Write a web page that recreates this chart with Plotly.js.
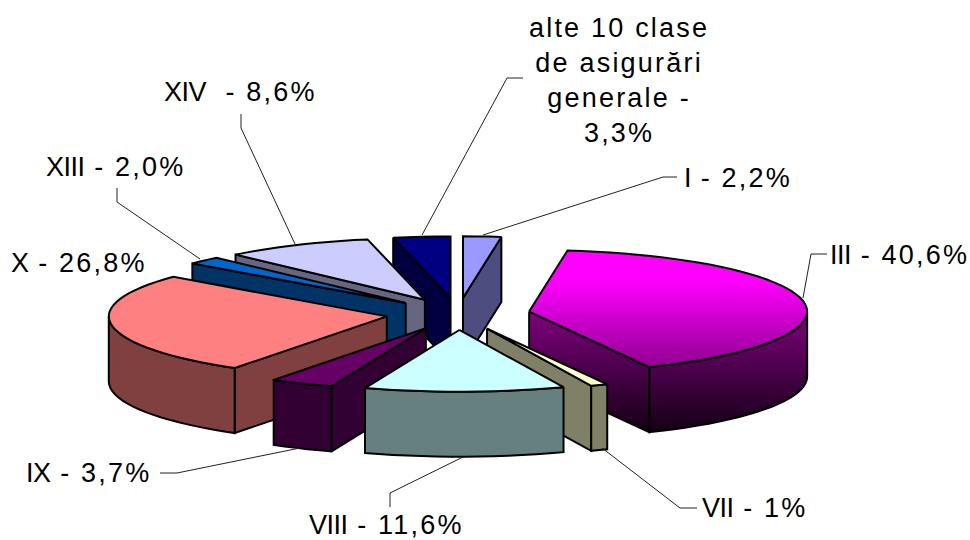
<!DOCTYPE html>
<html>
<head>
<meta charset="utf-8">
<script src="https://cdn.plot.ly/plotly-3.0.1.min.js"></script>
<style>
html,body{margin:0;padding:0;background:#fff}
#chart{width:970px;height:540px}
.annotation-text{letter-spacing:2.2px}
</style>
</head>
<body>
<div id="chart"></div>
<script>
// Data, clockwise from 12 o'clock
const categories = ["I", "III", "VII", "VIII", "IX", "X", "XIII", "XIV", "alte 10 clase de asigurări generale"];
const shares = [2.2, 40.6, 1, 11.6, 3.7, 26.8, 2.0, 8.6, 3.3];
const labelValues = ["- 2,2%", "- 40,6%", "- 1%", "- 11,6%", "- 3,7%", "- 26,8%", "- 2,0%", " - 8,6%", ""];
const otherLabel = "alte 10 clase<br>de asigurări<br>generale -<br>3,3%";
const topColors = ["#9999FF", "#FF00FF", "#FFFFCC", "#CCFFFF", "#660066", "#FF8080", "#0066CC", "#CCCCFF", "#000080"];
const wallColors = ["#4D4D80", "#800080", "#808066", "#668080", "#330033", "#804040", "#003366", "#666680", "#000040"];

// Projection of the tilted pie (page pixels)
const cx = 458, cy = 314, radius = 278, tilt = 0.222, explode = 72, depth = 65;
const paintOrder = [0, 8, 7, 6, 5, 1, 2, 4, 3];
const gradientSlice = 1;

// Label placement: x, y, horizontal anchor
const labelPos = [[682,178,"left"],[828,255,"left"],[700,508,"left"],[307,525,"left"],[24,473,"left"],[9,263,"left"],[44,167,"left"],[162,92,"left"],[619,80,"center"]];
const leaders = [
  [[483,235],[663,177],[677,177]],
  [[803,298],[811,254],[827,254]],
  [[602,448],[680,508],[697,508]],
  [[463,457],[390,493],[390,507]],
  [[300,448],[177,473],[160,473]],
  [],
  [[200,259],[117,202],[117,188]],
  [[295,244],[241,128],[241,114]],
  [[422,235],[507,78],[523,78]]
];

const total = shares.reduce((a, b) => a + b, 0);
const rad = d => d * Math.PI / 180;
let acc = 0;
const slices = shares.map(v => {
  const a0 = acc / total * 360; acc += v;
  const a1 = acc / total * 360; const mid = (a0 + a1) / 2;
  const ax = cx + explode * Math.sin(rad(mid));
  const ay = cy - explode * tilt * Math.cos(rad(mid));
  return {a0, a1, mid, ax, ay};
});
const rim = (s, a) => [s.ax + radius * Math.sin(rad(a)), s.ay - radius * tilt * Math.cos(rad(a))];
const arc = (s, a0, a1) => {
  const n = Math.max(2, Math.ceil(Math.abs(a1 - a0) / 3)), out = [];
  for (let i = 0; i <= n; i++) out.push(rim(s, a0 + (a1 - a0) * i / n));
  return out;
};
const traces = [];
function poly(pts, color, grad) {
  const t = {
    type: "scatter", mode: "lines", hoverinfo: "skip", showlegend: false,
    x: pts.map(p => p[0]).concat(pts[0][0]),
    y: pts.map(p => p[1]).concat(pts[0][1]),
    fill: "toself", fillcolor: color,
    line: {color: "#000", width: 2, simplify: false}
  };
  if (grad) t.fillgradient = grad;
  traces.push(t);
}
const down = p => [p[0], p[1] + depth];

paintOrder.forEach(i => {
  const s = slices[i];
  const isGrad = i === gradientSlice;
  const wallGrad = isGrad ? {type: "vertical", start: 310, stop: 436, colorscale: [[0, "#800080"], [1, "#100010"]]} : null;
  const topGrad = isGrad ? {type: "vertical", start: 280, stop: 370, colorscale: [[0, "#FF00FF"], [1, "#8C008C"]]} : null;
  const inner = rim(s, s.mid), apex = [s.ax, s.ay];
  const chord = [(inner[0] + apex[0]) / 2, (inner[1] + apex[1]) / 2];
  [s.a0, s.a1].forEach(a => {
    const p = rim(s, a), dx = p[0] - apex[0];
    if (Math.abs(dx) < 1) return;
    const yOnEdge = apex[1] + (p[1] - apex[1]) * (chord[0] - apex[0]) / dx;
    if (chord[1] < yOnEdge) poly([apex, p, down(p), down(apex)], wallColors[i], wallGrad);
  });
  const f0 = Math.max(s.a0, 90), f1 = Math.min(s.a1, 270);
  if (f1 > f0) {
    const front = arc(s, f0, f1);
    poly(front.concat(front.slice().reverse().map(down)), wallColors[i], wallGrad);
  }
  poly([apex].concat(arc(s, s.a0, s.a1)), topColors[i], topGrad);
});

// Roman numerals are set tighter than the rest of each label
const labelText = i => labelValues[i]
  ? "<span style='letter-spacing:-0.5px'>" + categories[i] + "</span> " + labelValues[i]
  : otherLabel;
const annotations = categories.map((c, i) => ({
  text: labelText(i), x: labelPos[i][0], y: labelPos[i][1], xref: "x", yref: "y",
  xanchor: labelPos[i][2], yanchor: "middle", align: "center", showarrow: false,
  font: {family: "Liberation Sans, Arial, sans-serif", size: 27, color: "#000"}
}));
const shapes = leaders.filter(l => l.length).map(l => ({
  type: "path", xref: "x", yref: "y",
  path: l.map((p, k) => (k ? "L" : "M") + p[0] + " " + p[1]).join(" "),
  line: {color: "#222", width: 1}
}));

Plotly.newPlot("chart", traces, {
  width: 970, height: 540, margin: {l: 0, r: 0, t: 0, b: 0},
  paper_bgcolor: "#fff", plot_bgcolor: "#fff", showlegend: false,
  xaxis: {range: [0, 970], visible: false, fixedrange: true},
  yaxis: {range: [540, 0], visible: false, fixedrange: true},
  annotations, shapes
}, {displayModeBar: false, staticPlot: true});
</script>
</body>
</html>
